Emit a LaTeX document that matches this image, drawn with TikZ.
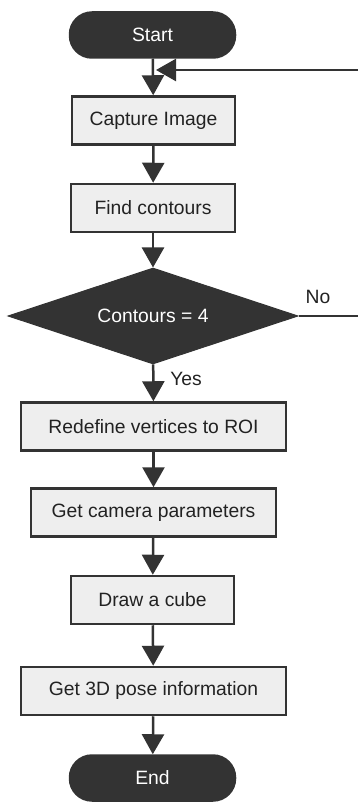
\documentclass[tikz,border=0pt]{standalone}
\usepackage{fontspec}
\setmainfont{Liberation Sans}
\usetikzlibrary{shapes.geometric,arrows.meta}
\definecolor{dk}{HTML}{333333}
\definecolor{bx}{HTML}{EEEEEE}
\definecolor{txt}{HTML}{222222}
\begin{document}
\begin{tikzpicture}[x=1pt,y=-1pt,
  every node/.style={font=\fontsize{19.3pt}{22pt}\selectfont, inner sep=0pt},
  term/.style={draw=dk, fill=dk, line width=2.5pt, rounded corners=22pt,
     minimum width=165pt, minimum height=45pt, text=white},
  proc/.style={draw=dk, fill=bx, line width=2.5pt, minimum height=48pt, text=txt},
  decis/.style={diamond, aspect=3, draw=dk, fill=dk, line width=1pt, minimum width=290pt,
     minimum height=96pt, text=white},
  conn/.style={draw=dk, line width=2.5pt, -{Triangle[width=22pt,length=20pt]}},
  lbl/.style={text=txt}]
\useasboundingbox (0,0) rectangle (358,802);
\node[term] (start) at (152.5,35) {Start};
\node[proc, minimum width=163pt] (cap) at (153.5,120.5) {Capture Image};
\node[proc, minimum width=164pt] (find) at (153,208) {Find contours};
\node[decis] (dia) at (153,316) {Contours = 4};
\node[proc, minimum width=265pt] (red) at (153.5,426.5) {Redefine vertices to ROI};
\node[proc, minimum width=245pt] (cam) at (153.5,512.5) {Get camera parameters};
\node[proc, minimum width=163pt] (cube) at (152.5,600) {Draw a cube};
\node[proc, minimum width=265pt] (pose) at (153.5,691) {Get 3D pose information};
\node[term] (end) at (152.5,778) {End};
\coordinate (j) at (156,70);
\coordinate (rt) at (360,316);
\draw[conn] (start) -- (cap);
\draw[conn] (cap) -- (find);
\draw[conn] (find) -- (dia);
\draw[conn] (dia) -- (red);
\draw[conn] (red) -- (cam);
\draw[conn] (cam) -- (cube);
\draw[conn] (cube) -- (pose);
\draw[conn] (pose) -- (end);
\draw[conn] (dia.east) -- (rt) |- (j);
\node[lbl] (no) at (318,297) {No};
\node[lbl] (yes) at (186,379) {Yes};
\end{tikzpicture}
\end{document}
